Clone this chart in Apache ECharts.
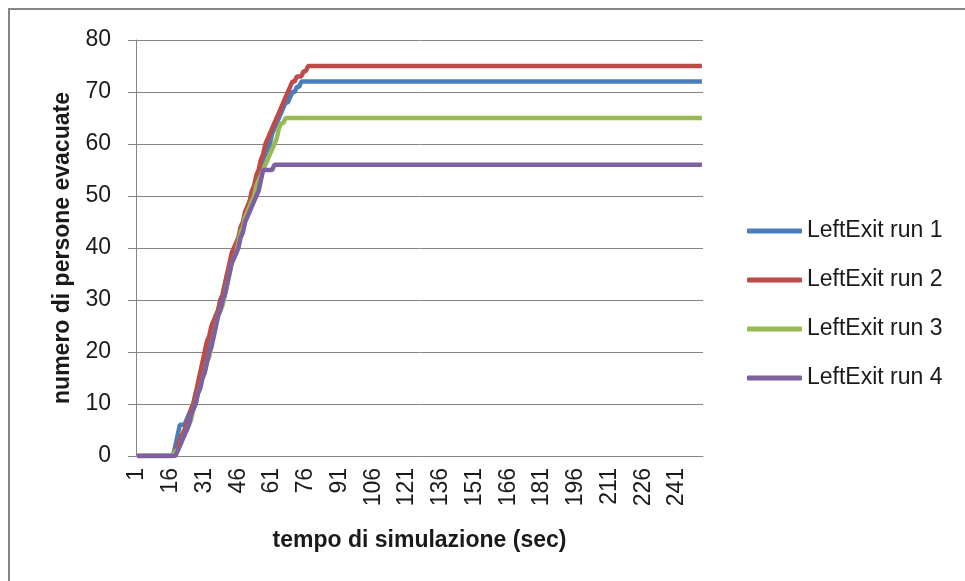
<!DOCTYPE html>
<html>
<head>
<meta charset="utf-8">
<title>LeftExit</title>
<script src="https://cdn.jsdelivr.net/npm/echarts@6/dist/echarts.min.js"></script>
<style>
  html, body { margin: 0; padding: 0; background: #fff; }
  #chart { width: 965px; height: 581px; }
</style>
</head>
<body>
<div id="chart"></div>
<script>
// numero di persone evacuate, secondo per secondo (da 1 s fino all'inizio del plateau)
const run1 = [0, 0, 0, 0, 0, 0, 0, 0, 0, 0, 0, 0, 0, 0, 0, 0, 0,
  2, 4, 6, 6, 6, 7, 8, 9, 10, 12, 13, 15, 17, 18, 20, 21, 23, 25, 27, 28, 30, 31, 33,
  35, 36, 38, 39, 40, 41, 43, 44, 46, 47, 49, 50, 51, 53, 54, 55, 57, 58, 59, 60,
  62, 63, 64, 65, 66, 67, 68, 68, 69, 70, 70, 71, 71, 72]
const run2 = [0, 0, 0, 0, 0, 0, 0, 0, 0, 0, 0, 0, 0, 0, 0, 0, 0,
  1, 2, 3, 4, 5, 6, 7, 9, 10, 12, 14, 16, 18, 20, 22, 23, 25, 26, 27, 28, 30, 31, 33,
  35, 37, 39, 40, 41, 42, 44, 45, 47, 48, 49, 51, 52, 54, 55, 57, 58, 60, 61, 62,
  63, 64, 65, 66, 67, 68, 69, 70, 71, 72, 72, 73, 73, 73, 74, 74, 75]
const run3 = [0, 0, 0, 0, 0, 0, 0, 0, 0, 0, 0, 0, 0, 0, 0, 0, 0,
  1, 1, 2, 3, 4, 5, 6, 7, 9, 10, 12, 13, 15, 16, 18, 19, 21, 23, 25, 27, 28, 29, 31,
  33, 35, 37, 38, 39, 41, 43, 44, 46, 47, 48, 49, 50, 52, 53, 54, 55, 56, 57, 58,
  59, 60, 61, 63, 64, 64, 65]
const run4 = [0, 0, 0, 0, 0, 0, 0, 0, 0, 0, 0, 0, 0, 0, 0, 0, 0, 0,
  1, 2, 3, 4, 5, 6, 8, 9, 10, 12, 13, 15, 16, 18, 20, 21, 23, 25, 27, 28, 30, 31,
  33, 35, 37, 38, 39, 40, 42, 43, 45, 46, 47, 48, 49, 50, 51, 53, 55, 55, 55, 55,
  55, 56]

// ultimo secondo simulato (fine del plateau)
const lastSecond = 252

// etichette asse x: 1 .. 252 s
const seconds = Array.from({ length: lastSecond }, (_, i) => String(i + 1))

const seriesNames = ['LeftExit run 1', 'LeftExit run 2', 'LeftExit run 3', 'LeftExit run 4']
const seriesColors = ['#4a7ebb', '#be4b48', '#98b954', '#7d60a0']
const runs = [run1, run2, run3, run4]

const font = '"Liberation Sans", Arial, sans-serif'
const gray = '#868686'

// coppie [secondo, valore]; il plateau continua fino a lastSecond
function toPoints(run) {
  const pts = run.map((v, i) => [seconds[i], v])
  pts.push([seconds[lastSecond - 1], run[run.length - 1]])
  return pts
}

const chart = echarts.init(document.getElementById('chart'))

chart.setOption({
  animation: false,
  color: seriesColors,
  graphic: [
    {
      type: 'rect',
      shape: { x: 9, y: 9, width: 1000, height: 1000 },
      style: { fill: 'none', stroke: gray, lineWidth: 2 },
      silent: true,
    },
  ],
  grid: {
    left: 136,
    right: 262,
    top: 40,
    bottom: 125,
  },
  legend: {
    orient: 'vertical',
    left: 742,
    top: 214,
    itemWidth: 55,
    itemHeight: 5,
    itemGap: 25,
    icon: 'roundRect',
    data: seriesNames,
    textStyle: {
      fontFamily: font,
      fontSize: 23,
      lineHeight: 24,
      color: '#1a1a1a',
    },
  },
  xAxis: {
    type: 'category',
    data: seconds,
    boundaryGap: true,
    name: 'tempo di simulazione (sec)',
    nameLocation: 'middle',
    nameGap: 73,
    nameTextStyle: {
      fontFamily: font,
      fontSize: 23,
      fontWeight: 'bold',
      color: '#1a1a1a',
    },
    axisLine: { lineStyle: { color: gray, width: 1 } },
    axisTick: {
      interval: 0,
      length: 8,
      lineStyle: { color: gray },
    },
    axisLabel: {
      interval: 14,
      rotate: 90,
      margin: 12,
      fontFamily: font,
      fontSize: 23,
      color: '#1a1a1a',
    },
    splitLine: { show: false },
  },
  yAxis: {
    type: 'value',
    min: 0,
    max: 80,
    interval: 10,
    name: 'numero di persone evacuate',
    nameLocation: 'middle',
    nameGap: 61,
    nameTextStyle: {
      fontFamily: font,
      fontSize: 23,
      fontWeight: 'bold',
      color: '#1a1a1a',
    },
    axisLine: { show: true, lineStyle: { color: gray, width: 1 } },
    axisTick: { show: true, length: 8, lineStyle: { color: gray } },
    axisLabel: {
      margin: 25,
      fontFamily: font,
      fontSize: 23,
      color: '#1a1a1a',
    },
    splitLine: { lineStyle: { color: gray, width: 1 } },
  },
  series: runs.map((run, i) => ({
    name: seriesNames[i],
    type: 'line',
    data: toPoints(run),
    symbol: 'none',
    lineStyle: { width: 4.5, color: seriesColors[i] },
    itemStyle: { color: seriesColors[i] },
  })),
})
</script>
</body>
</html>
